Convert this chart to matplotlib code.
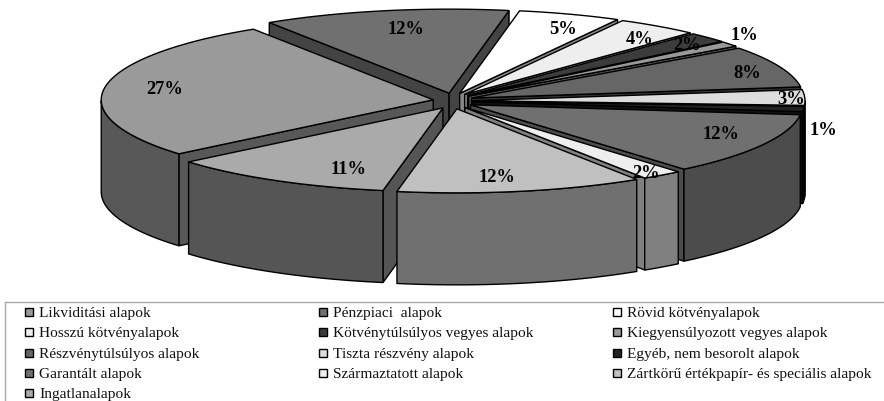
import numpy as np
import matplotlib
matplotlib.use('Agg')
import matplotlib.pyplot as plt
from matplotlib.patches import Polygon, Rectangle

plt.rcParams['font.family'] = ['Liberation Serif', 'DejaVu Serif']

categories = ['Likviditási alapok', 'Pénzpiaci  alapok', 'Rövid kötvényalapok',
              'Hosszú kötvényalapok', 'Kötvénytúlsúlyos vegyes alapok', 'Kiegyensúlyozott vegyes alapok',
              'Részvénytúlsúlyos alapok', 'Tiszta részvény alapok', 'Egyéb, nem besorolt alapok',
              'Garantált alapok', 'Származtatott alapok', 'Zártkörű értékpapír- és speciális alapok',
              'Ingatlanalapok']
values = [27, 12, 5, 4, 2, 1, 8, 3, 1, 12, 2, 12, 11]

top_colors = ['#9a9a9a', '#707070', '#ffffff', '#eeeeee', '#3c3c3c', '#999999', '#666666',
              '#dddddd', '#222222', '#707070', '#eeeeee', '#c0c0c0', '#aaaaaa']
side_colors = ['#585858', '#444444', '#888888', '#999999', '#222222', '#555555', '#333333',
               '#777777', '#111111', '#4c4c4c', '#808080', '#707070', '#555555']
legend_colors = ['#999999', '#707070', '#ffffff', '#eeeeee', '#3c3c3c', '#999999', '#666666',
                 '#dddddd', '#222222', '#707070', '#eeeeee', '#c0c0c0', '#aaaaaa']

# where Excel had put the percent labels, in pixels
label_x = [165, 406, 563, 640, 687, 744, 747, 791, 823, 721, 646, 497, 349]
label_y = [90, 29, 30, 40, 46, 36, 74, 99, 131, 135, 174, 178, 170]

# pie layout in pixels
cx, cy = 453, 102
rx, ry = 332, 84
depth = 92
explode_x, explode_y = 20, 8
start_angle = 220

fig = plt.figure(figsize=(8.84, 4.02), dpi=100)
ax = fig.add_axes([0, 0, 1, 1])
ax.set_xlim(0, 884)
ax.set_ylim(402, 0)
ax.axis('off')


def rim(ox, oy, t):
    return np.column_stack([ox + rx * np.cos(t), oy - ry * np.sin(t)])


# angles run clockwise from the start angle
total = sum(values)
spans = np.radians(np.array(values) / total * 360)
starts = np.radians(start_angle) - np.concatenate([[0], np.cumsum(spans)[:-1]])

slices = []
for i in range(len(values)):
    t1 = starts[i]
    t2 = t1 - spans[i]
    mid = (t1 + t2) / 2
    slices.append((np.sin(mid), i, t1, t2, mid))

# back slices first, the front ones paint over them
for _, i, t1, t2, mid in sorted(slices, key=lambda s: -s[0]):
    ox = cx + explode_x * np.cos(mid)
    oy = cy - explode_y * np.sin(mid)
    apex = np.array([[ox, oy]])
    down = np.array([0, depth])
    ts = np.linspace(t1, t2, 80)
    arc = rim(ox, oy, ts)

    if np.cos(t1) < 0:
        edge = np.vstack([apex, rim(ox, oy, np.array([t1]))])
        ax.add_patch(Polygon(np.vstack([edge, edge[::-1] + down]), fc=side_colors[i], ec='black', lw=1))
    if np.cos(t2) > 0:
        edge = np.vstack([apex, rim(ox, oy, np.array([t2]))])
        ax.add_patch(Polygon(np.vstack([edge, edge[::-1] + down]), fc=side_colors[i], ec='black', lw=1))

    front = arc[np.sin(ts) <= 0]
    if len(front) > 1:
        ax.add_patch(Polygon(np.vstack([front, front[::-1] + down]), fc=side_colors[i], ec='black', lw=1))

    ax.add_patch(Polygon(np.vstack([apex, arc]), fc=top_colors[i], ec='black', lw=1))

for i, v in enumerate(values):
    ax.text(label_x[i], label_y[i], '%d%%' % v, fontsize=13.3, fontweight='bold',
            ha='center', va='center', color='black')

# legend box, only its top and left sides are inside the picture
ax.plot([5, 884], [303, 303], color='#aaaaaa', lw=1)
ax.plot([5, 5], [303, 402], color='#aaaaaa', lw=1)

col_x = [25, 319, 613]
row_y = [313, 333, 354, 374, 394]
for i, name in enumerate(categories):
    x = col_x[i % 3]
    y = row_y[i // 3]
    ax.add_patch(Rectangle((x, y - 4), 8, 8, fc=legend_colors[i], ec='black', lw=1))
    ax.text(x + 14, y + 1, name, fontsize=11.05, ha='left', va='center', color='#111111')

fig.savefig('out.png', dpi=100)
